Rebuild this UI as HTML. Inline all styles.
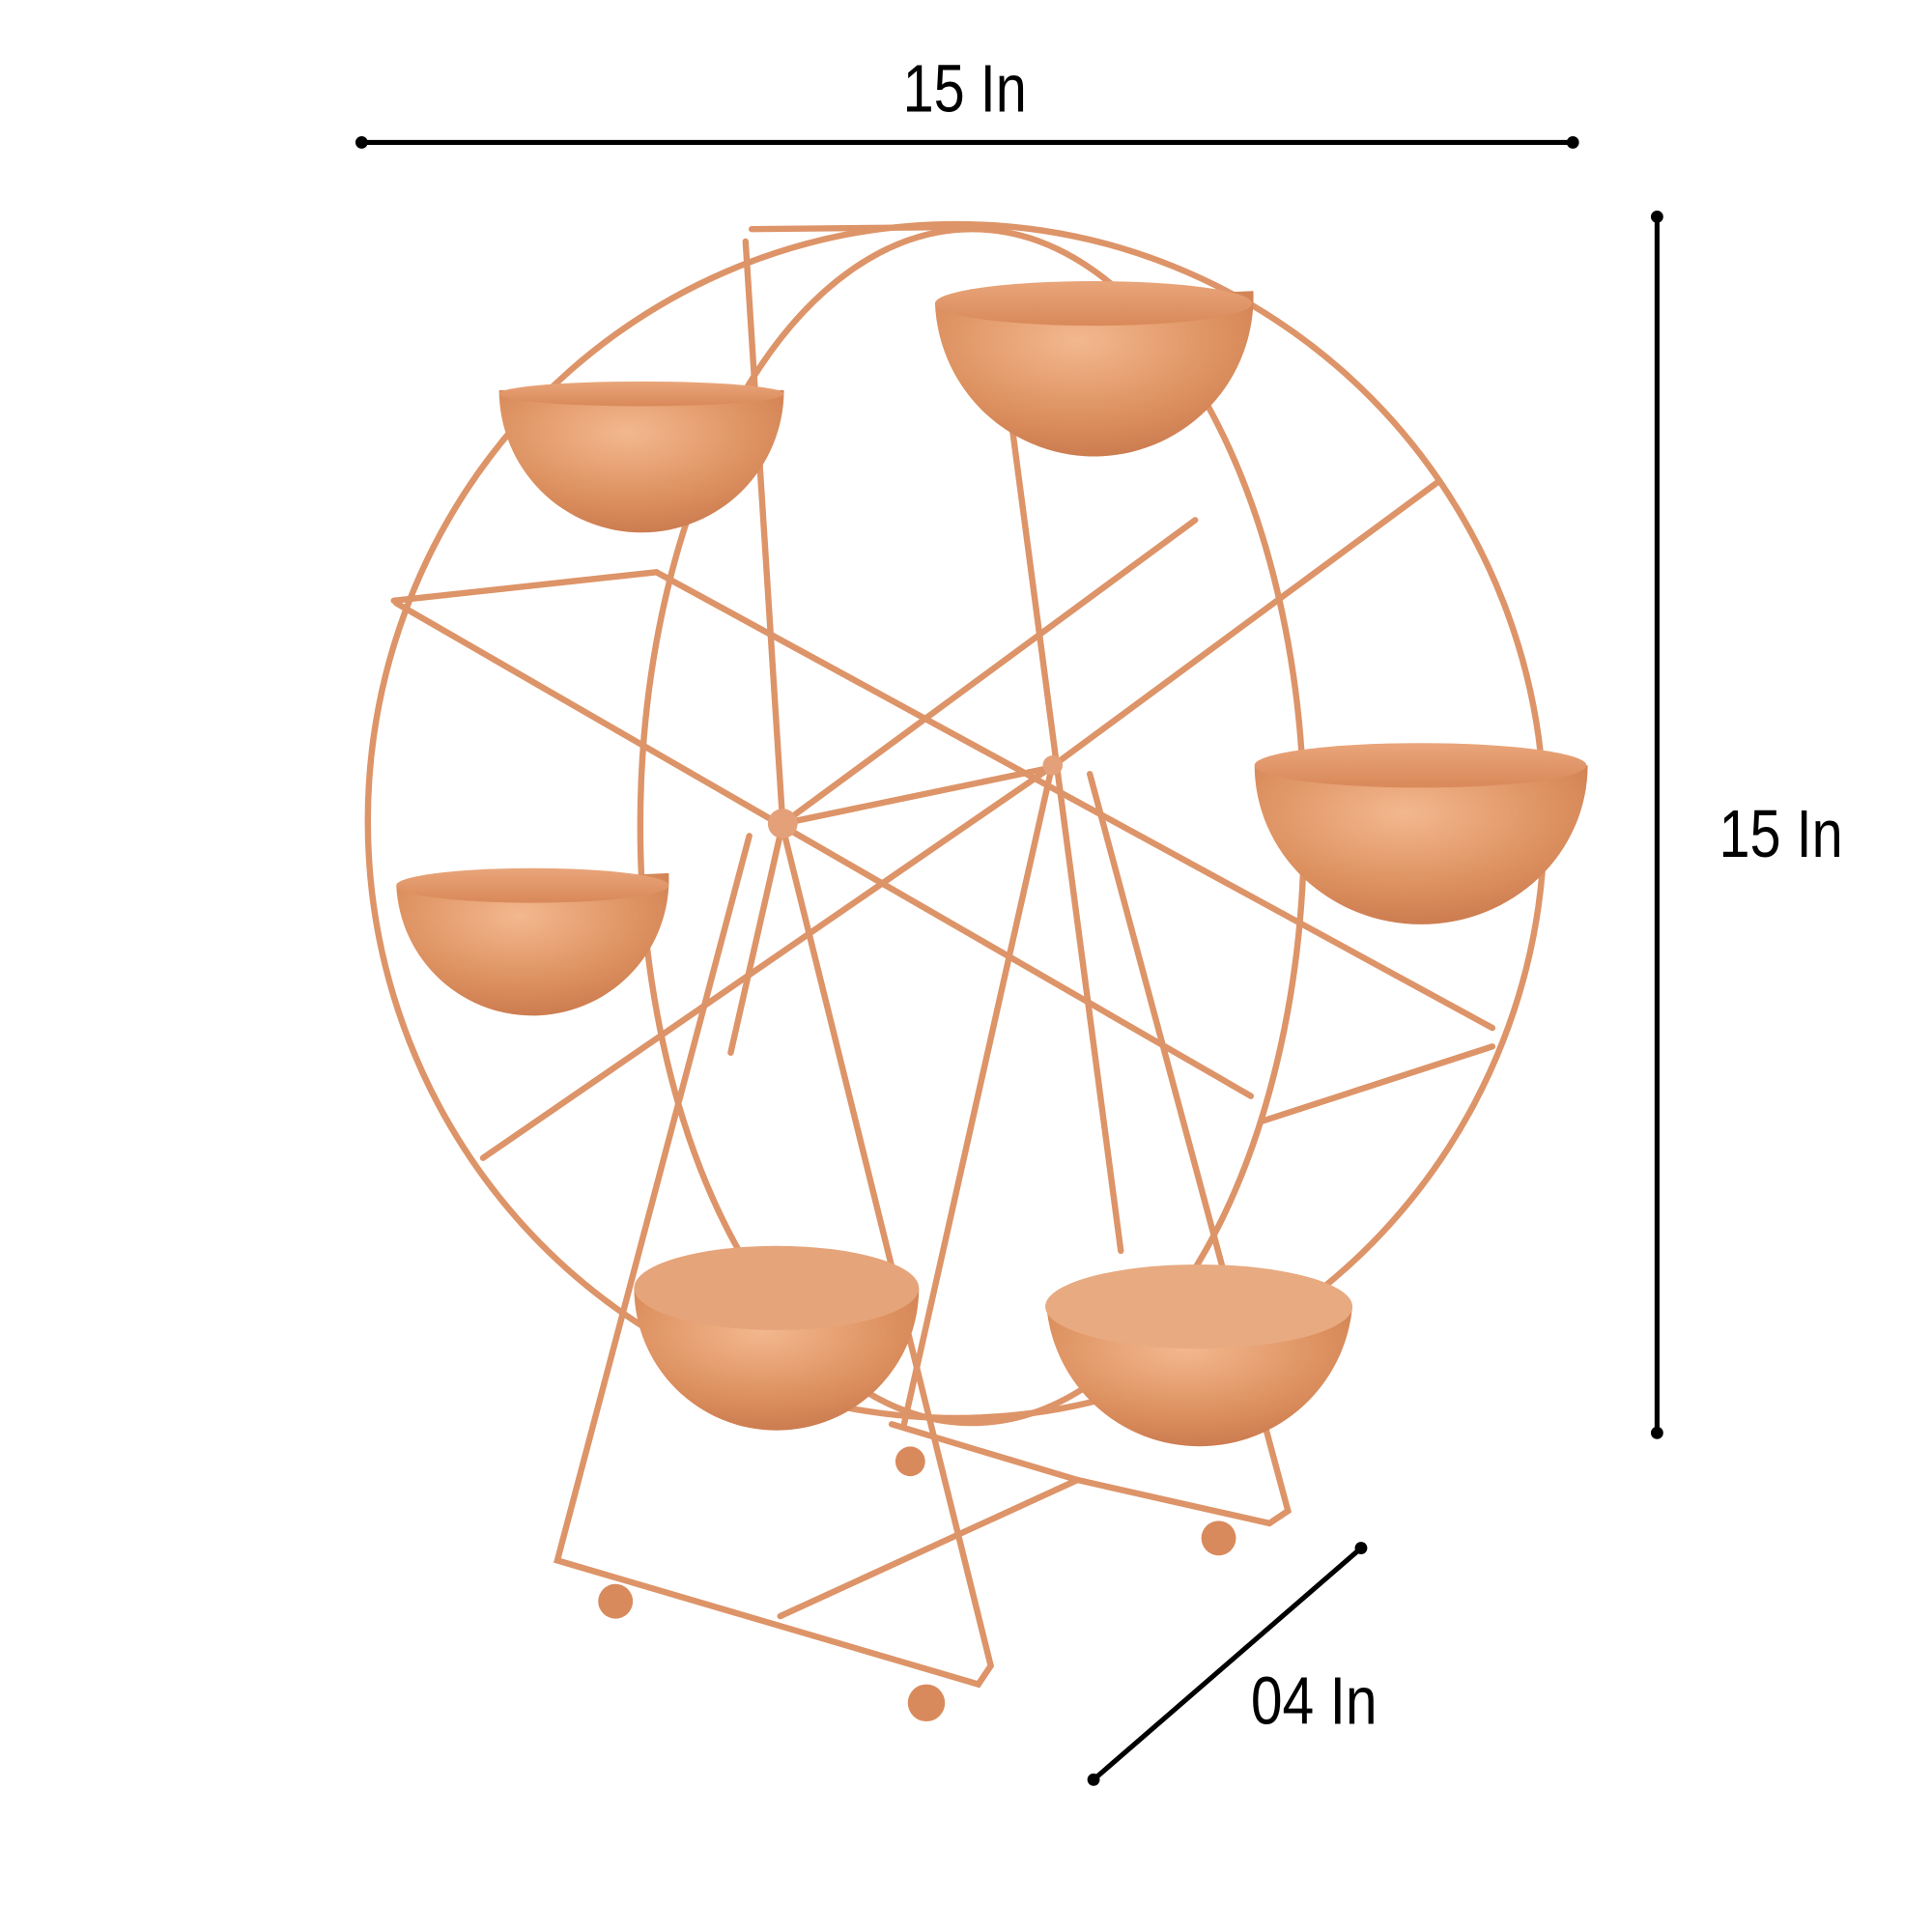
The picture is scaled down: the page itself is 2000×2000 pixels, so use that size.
<!DOCTYPE html>
<html><head><meta charset="utf-8"><style>
html,body{margin:0;padding:0;background:#fff;}
svg{display:block}
text{font-family:"Liberation Sans",sans-serif;fill:#000}
</style></head><body>
<svg width="2000" height="2000" viewBox="0 0 1560 1560">
<defs>
<radialGradient id="bowl" cx="0.45" cy="0.3" r="0.8">
<stop offset="0" stop-color="#f3b88e"/><stop offset="0.6" stop-color="#dc8f5e"/><stop offset="1" stop-color="#c5744a"/>
</radialGradient>
<linearGradient id="rim" x1="0" y1="0" x2="0" y2="1"><stop offset="0" stop-color="#e9a57a"/><stop offset="1" stop-color="#d9895a"/></linearGradient>
</defs>
<g>
<line x1="292" y1="115" x2="1270" y2="115" stroke="#000" stroke-width="4"/>
<circle cx="292" cy="115" r="5"/><circle cx="1270" cy="115" r="5"/>
<text x="729" y="90" font-size="54" textLength="100" lengthAdjust="spacingAndGlyphs">15 In</text>
</g>
<g>
<line x1="1338" y1="175" x2="1338" y2="1157" stroke="#000" stroke-width="4"/>
<circle cx="1338" cy="175" r="5"/><circle cx="1338" cy="1157" r="5"/>
<text x="1388" y="692" font-size="54" textLength="100" lengthAdjust="spacingAndGlyphs">15 In</text>
</g>
<g>
<line x1="883" y1="1437" x2="1099" y2="1250" stroke="#000" stroke-width="4"/>
<circle cx="883" cy="1437" r="5"/><circle cx="1099" cy="1250" r="5"/>
<text x="1010" y="1392" font-size="54" textLength="102" lengthAdjust="spacingAndGlyphs">04 In</text>
</g>
<g fill="none" stroke="#dd9468" stroke-width="5" stroke-linecap="round">
<ellipse cx="772" cy="663" rx="475" ry="482"/>
<ellipse cx="785" cy="667" rx="268" ry="482"/>
<line x1="607" y1="185" x2="810" y2="183"/>
<line x1="320" y1="487" x2="1010" y2="885"/>
<line x1="602" y1="195" x2="632" y2="665"/>
<line x1="632" y1="665" x2="965" y2="420"/>
<line x1="632" y1="665" x2="590" y2="850"/>
<line x1="530" y1="462" x2="1205" y2="830"/>
<line x1="810" y1="290" x2="905" y2="1010"/>
<line x1="848" y1="620" x2="1160" y2="390"/>
<line x1="848" y1="620" x2="390" y2="935"/>
<line x1="632" y1="665" x2="848" y2="620"/>
<line x1="318" y1="485" x2="530" y2="462"/>
<line x1="1020" y1="905" x2="1205" y2="845"/>
<polyline points="605,675 450,1260 790,1360 800,1345 632,668"/>
<line x1="848" y1="625" x2="730" y2="1150"/>
<polyline points="880,625 1040,1220 1025,1230 870,1195 630,1305"/>
<line x1="720" y1="1150" x2="870" y2="1195"/>
</g>
<g fill="#d98a5c">
<circle cx="497" cy="1293" r="14"/><circle cx="748" cy="1375" r="15"/>
<circle cx="984" cy="1242" r="14"/><circle cx="735" cy="1180" r="12"/>
<circle cx="632" cy="665" r="12" fill="#e4a078"/>
<circle cx="850" cy="618" r="8" fill="#e4a078"/>
</g>
<g>
<g><path d="M403 315 L633 315 A115 115 0 0 1 403 315 Z" fill="url(#bowl)"/><ellipse cx="518" cy="318" rx="115" ry="10" fill="url(#rim)"/></g>
<g><path d="M755 245 L1012 235 A128 128 0 0 1 755 245 Z" fill="url(#bowl)"/><ellipse cx="883" cy="245" rx="128" ry="18" fill="url(#rim)"/></g>
<g><path d="M320 715 L540 705 A110 110 0 0 1 320 715 Z" fill="url(#bowl)"/><ellipse cx="430" cy="715" rx="110" ry="14" fill="url(#rim)"/></g>
<g><path d="M1013 618 L1282 618 A134 128 0 0 1 1013 618 Z" fill="url(#bowl)"/><ellipse cx="1147" cy="618" rx="134" ry="18" fill="url(#rim)"/></g>
<g><path d="M512 1040 L742 1040 A115 115 0 0 1 512 1040 Z" fill="url(#bowl)"/><ellipse cx="627" cy="1040" rx="115" ry="34" fill="#e6a47a"/></g>
<g><path d="M845 1055 L1092 1055 A124 124 0 0 1 845 1055 Z" fill="url(#bowl)"/><ellipse cx="968" cy="1055" rx="124" ry="34" fill="#e8aa80"/></g>
</g>
</svg>
</body></html>
